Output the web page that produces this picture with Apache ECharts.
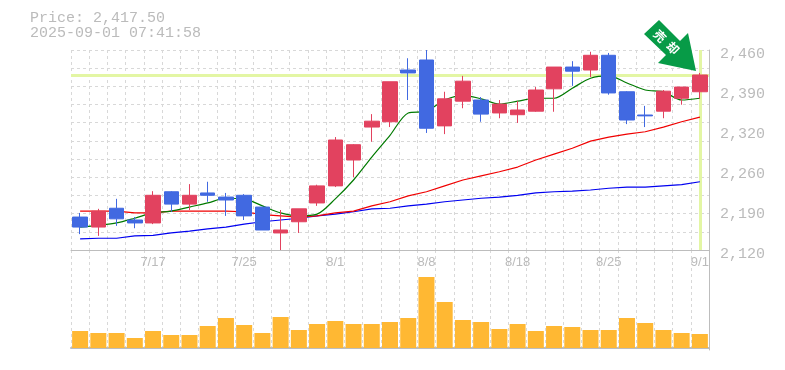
<!DOCTYPE html>
<html><head><meta charset="utf-8">
<style>html,body{margin:0;padding:0;background:#fff}#c{width:785px;height:370px}</style>
<script src="https://cdn.jsdelivr.net/npm/echarts@6/dist/echarts.min.js"></script>
</head><body><div id="c"></div>
<script>
const categories=['7/11','7/14','7/15','7/16','7/17','7/18','7/22','7/23','7/24','7/25','7/28','7/29','7/30','7/31','8/1','8/4','8/5','8/6','8/7','8/8','8/12','8/13','8/14','8/15','8/18','8/19','8/20','8/21','8/22','8/25','8/26','8/27','8/28','8/29','9/1'];
const opens=[2176,2159,2191,2171,2166,2219,2198,2217,2210,2213,2193,2149,2168,2200,2229,2273,2329,2338,2426,2443,2331,2373,2375,2353,2350,2356,2394,2431,2426,2451,2389,2349.5,2356,2378,2389];
const closes=[2159,2186,2173,2166,2213,2198,2213,2213,2205,2178,2154,2154,2190,2229,2307,2299,2339,2406,2421,2327,2377,2407,2351,2368,2358,2392,2431,2424,2451,2387,2341,2348,2390,2397,2417.5];
const lows=[2147,2144,2161,2157,2164,2185,2188,2202,2178,2171,2154,2120,2149,2195,2227,2244,2304,2329,2375,2319,2317,2361,2338,2344,2336,2355,2355,2399,2414,2384,2334,2329,2344,2367,2377];
const highs=[2183,2190,2207,2176,2220,2220,2232,2236,2217,2215,2193,2188,2190,2231,2312,2300,2351,2406,2446,2460,2389,2416,2380,2375,2373,2397,2431,2441,2457,2455,2390,2365,2392,2397,2421];
const ma5=[2159,2162,2166,2174,2183,2186,2193,2200,2208,2207,2195,2183,2178,2181,2207,2239,2278,2315,2353,2356,2375,2383,2377,2368,2373,2378,2378,2395,2412,2416,2404,2392,2389,2375,2378];
const ma25=[2186,2186,2186,2183,2183,2186,2186,2186,2186,2185,2180,2178,2176,2178,2183,2186,2195,2202,2212,2219,2229,2239,2246,2253,2261,2273,2283,2293,2305,2312,2317,2321,2329,2338,2346];
const ma75=[2139,2140,2140,2144,2145,2149,2152,2156,2159,2164,2168,2171,2174,2178,2181,2185,2190,2191,2195,2198,2202,2205,2208,2210,2213,2217,2219,2220,2222,2225,2227,2227,2229,2231,2236];
const volumes=[17,15,15,10,17,13,13,22,30,23,15,31,18,24,27,24,24,26,30,71,46,28,26,19,24,17,22,21,18,18,30,25,18,15,14];
const currentPrice=2417.5;
const priceTicks=[2120,2188,2256,2324,2392,2460];
const tickLabels=['2,120','2,190','2,260','2,320','2,390','2,460'];
const gridLevels=[2120,2150.9,2181.8,2212.7,2243.6,2274.5,2305.5,2336.4,2367.3,2398.2,2429.1,2460];
const dateLabelIdx=[4,9,14,19,24,29,34];
const infoLines=['Price: 2,417.50','2025-09-01 07:41:58'];
const badge=['売','却'];
const mono='"Liberation Mono"';
const grey='#bbbbbb', gridC='#d8d8d8', axisC='#bdbdbd', hl='#e3f6a4';
const xSplit={show:true,interval:0,lineStyle:{color:gridC,type:[3,3],width:1}};
const chart=echarts.init(document.getElementById('c'),null,{renderer:'canvas'});
chart.setOption({
 animation:false,backgroundColor:'#fff',
 grid:[{left:71,top:50,width:638,height:200},{left:71,top:250,width:638,height:100}],
 xAxis:[
  {type:'category',gridIndex:0,data:categories,axisTick:{show:false},
   axisLine:{show:true,lineStyle:{color:axisC,width:1}},splitLine:xSplit,
   axisLabel:{show:true,interval:(i)=>dateLabelIdx.includes(i),fontFamily:'"Liberation Sans Narrow","Liberation Sans"',fontSize:13,color:grey,margin:6}},
  {type:'category',gridIndex:1,data:categories,axisTick:{show:false},axisLabel:{show:false},
   axisLine:{show:true,lineStyle:{color:axisC,width:2}},splitLine:xSplit}
 ],
 yAxis:[
  {type:'value',gridIndex:0,position:'right',min:2120,max:2460,
   axisLine:{show:true,lineStyle:{color:axisC}},
   axisTick:{show:false,customValues:gridLevels},
   splitLine:{show:true,lineStyle:{color:gridC,type:[3,3]}},
   axisLabel:{show:true,customValues:priceTicks,fontFamily:mono,fontSize:15,color:grey,margin:11,
     verticalAlign:'top',padding:[-3,0,0,0],
     formatter:(v)=>tickLabels[priceTicks.indexOf(v)]}},
  {type:'value',gridIndex:1,position:'right',min:-2,max:98,axisLine:{show:true,lineStyle:{color:axisC}},
   axisTick:{show:false},axisLabel:{show:false},splitLine:{show:false}}
 ],
 graphic:[
  {type:'text',left:30,top:11,silent:true,style:{text:infoLines[0],fontFamily:mono,fontSize:15,fill:grey}},
  {type:'text',left:30,top:26,silent:true,style:{text:infoLines[1],fontFamily:mono,fontSize:15,fill:grey}},
  {type:'polygon',silent:true,z:50,shape:{points:[[659,20],[644,34],[666,55],[658,63],[696,71],[688,33],[680,41]]},style:{fill:'#079b47'}},
  {type:'text',silent:true,z:51,x:660,y:36,rotation:-Math.PI/4,style:{text:badge[0],fontFamily:'"Noto Sans CJK JP"',fontSize:12,fontWeight:'bold',fill:'#fff',align:'center',verticalAlign:'middle'}},
  {type:'text',silent:true,z:51,x:673,y:48,rotation:-Math.PI/4,style:{text:badge[1],fontFamily:'"Noto Sans CJK JP"',fontSize:12,fontWeight:'bold',fill:'#fff',align:'center',verticalAlign:'middle'}}
 ],
 series:[
  {type:'line',name:'ref',xAxisIndex:0,yAxisIndex:0,data:[],z:1,silent:true,
   markLine:{silent:true,symbol:'none',label:{show:false},z:1,animation:false,
     lineStyle:{color:hl,width:3,type:'solid'},
     data:[{yAxis:currentPrice},{xAxis:categories[34]}]}},
  {type:'line',name:'MA75',data:ma75,z:2,symbol:'none',lineStyle:{color:'#0000f0',width:1.2}},
  {type:'line',name:'MA25',data:ma25,z:2,symbol:'none',lineStyle:{color:'#f00000',width:1.2}},
  {type:'line',name:'MA5',data:ma5,z:2,symbol:'none',smooth:0.3,lineStyle:{color:'#007a00',width:1.2}},
  {type:'candlestick',name:'Price',z:5,barWidth:15,
   data:categories.map((_,i)=>[opens[i],closes[i],lows[i],highs[i]]),
   itemStyle:{color:'#e2425f',borderColor:'#e2425f',color0:'#4169e1',borderColor0:'#4169e1',borderWidth:1}},
  {type:'bar',name:'Volume',xAxisIndex:1,yAxisIndex:1,data:volumes,barWidth:16,itemStyle:{color:'#ffb833'},z:3}
 ]
});
</script></body></html>
